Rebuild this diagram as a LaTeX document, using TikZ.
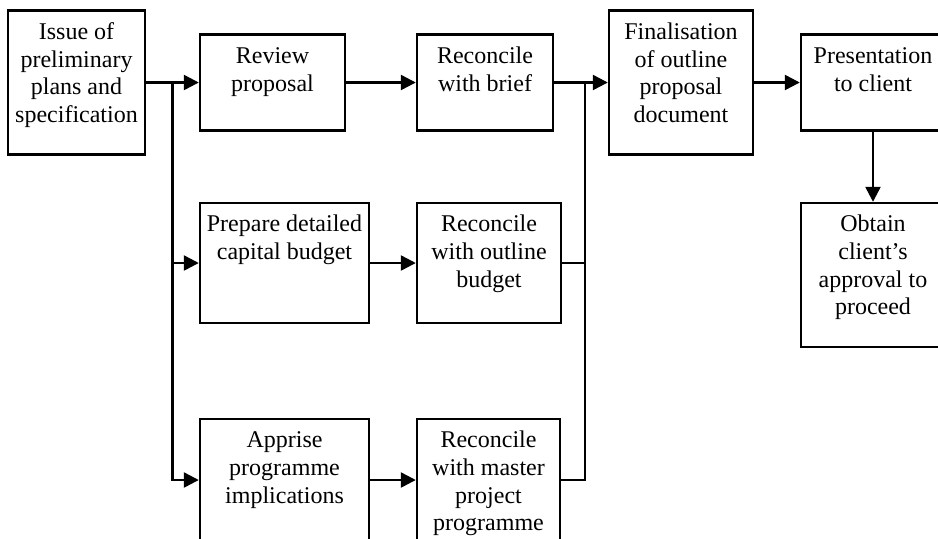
\documentclass[tikz,border=0pt]{standalone}
\usepackage{fontspec}
\setmainfont{Liberation Serif}
\usetikzlibrary{arrows.meta}
\tikzset{
  x=0.5pt, y=-0.5pt,
  stage/.style={draw=black, line width=1.2pt, rectangle, inner sep=0pt},
  stagetext/.style={anchor=north, inner sep=0pt, yshift=-5.2pt, align=center,
    font=\fontsize{12}{13.8}\selectfont},
  flow/.style={line width=1.2pt, -{Triangle[length=7.5pt,width=7.5pt]}},
  mergeline/.style={line width=1.2pt},
}
\newcommand{\stagebox}[6]{% name, x, y, width, height, text
  \node[stage, minimum width=#4*0.5pt, minimum height=#5*0.5pt,
        label={[stagetext]north:{\strut #6}}] (#1) at (#2,#3) {};}
\begin{document}
\begin{tikzpicture}
\useasboundingbox (0,0) rectangle (938,538);
\clip (0,0) rectangle (938,538);

% stages
\stagebox{issue}{76.5}{82.5}{137}{144}{Issue of\\preliminary\\plans and\\specification}
\stagebox{review}{272.5}{82.5}{145}{96}{Review\\proposal}
\stagebox{brief}{485}{82.5}{136}{96}{Reconcile\\with brief}
\stagebox{final}{681}{82.5}{144}{144}{Finalisation\\of outline\\proposal\\document}
\stagebox{present}{873}{82.5}{144}{96}{Presentation\\to client}
\stagebox{obtain}{873}{275}{144}{144}{Obtain\\client’s\\approval to\\proceed}
\stagebox{prepare}{284.5}{263}{169}{120}{Prepare detailed\\capital budget}
\stagebox{outline}{489}{263}{144}{120}{Reconcile\\with outline\\budget}
\stagebox{apprise}{284.5}{480}{169}{122}{Apprise\\programme\\implications}
\stagebox{master}{488.5}{480}{143}{122}{Reconcile\\with master\\project\\programme}

% branch and merge points
\coordinate (split) at (172.5,82.5);
\coordinate (merge) at (585,82.5);

% connectors
\draw[flow] (issue.east) -- (review.west);
\draw[flow] (split) |- (prepare.west);
\draw[flow] (split) |- (apprise.west);
\draw[flow] (review.east) -- (brief.west);
\draw[flow] (prepare.east) -- (outline.west);
\draw[flow] (apprise.east) -- (master.west);
\draw[flow] (brief.east) -- (final.west);
\draw[mergeline] (outline.east) -| (merge);
\draw[mergeline] (master.east) -| (merge);
\draw[flow] (final.east) -- (present.west);
\draw[flow] (present.south) -- (obtain.north);
\end{tikzpicture}
\end{document}
